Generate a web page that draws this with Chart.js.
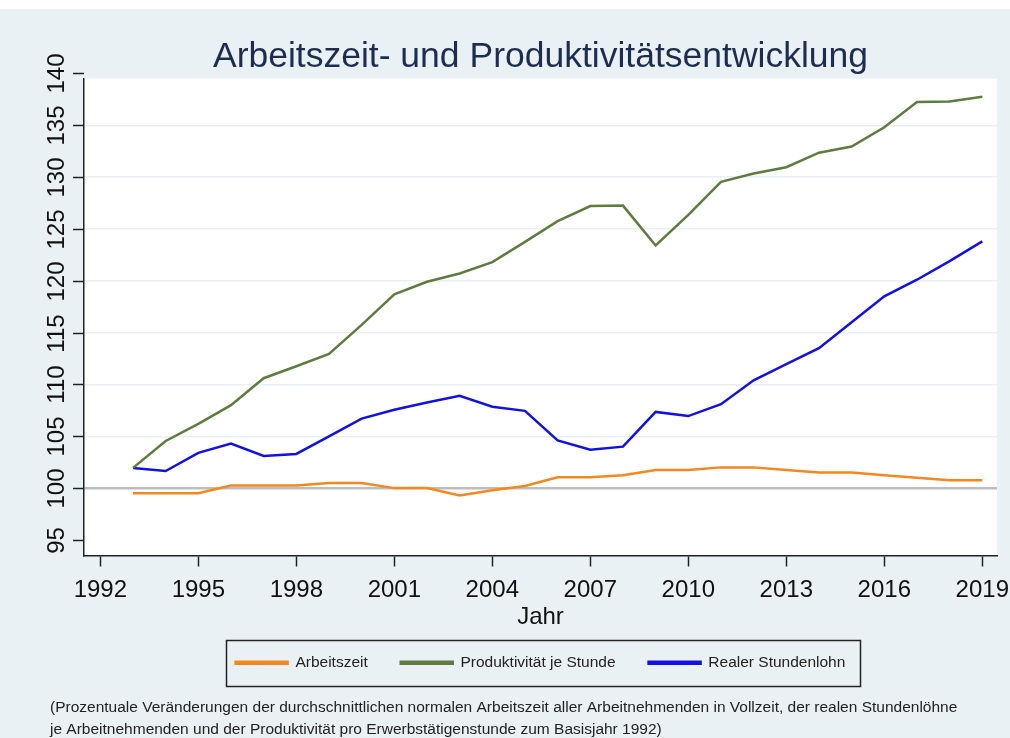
<!DOCTYPE html>
<html>
<head>
<meta charset="utf-8">
<script src="https://cdn.jsdelivr.net/npm/chart.js@4.4.1/dist/chart.umd.min.js"></script>
<style>
  body { margin: 0; background: #ffffff; }
  #wrap { position: absolute; left: 0; top: 9px; width: 1010px; height: 729px; }
</style>
</head>
<body>
<div id="wrap"><canvas id="myChart" width="1010" height="729"></canvas></div>
<script>
/*----------------------------Daten------------------------------------*/
var years = [1993,1994,1995,1996,1997,1998,1999,2000,2001,2002,2003,2004,2005,2006,
  2007,2008,2009,2010,2011,2012,2013,2014,2015,2016,2017,2018,2019];

var arbeitszeit = [99.5,99.5,99.5,100.25,100.25,100.25,100.5,100.5,100.0,100.0,99.3,99.8,100.2,101.05,
  101.05,101.25,101.75,101.75,102.0,102.0,101.75,101.5,101.5,101.25,101.0,100.75,100.75];

var produktivitaet = [101.95,104.55,106.2,108.0,110.6,111.75,112.95,115.75,118.7,119.9,120.7,121.8,123.75,125.75,
  127.2,127.25,123.4,126.35,129.55,130.35,130.95,132.35,132.95,134.8,137.25,137.3,137.75];

var stundenlohn = [101.95,101.65,103.4,104.3,103.1,103.3,105.0,106.7,107.55,108.25,108.9,107.85,107.45,104.6,
  103.7,104.0,107.35,106.95,108.1,110.4,111.95,113.5,116.0,118.5,120.1,121.9,123.8];

var xTicks = [1992,1995,1998,2001,2004,2007,2010,2013,2016,2019];
var yTicks = [95,100,105,110,115,120,125,130,135,140];

var seriesNames = ["Arbeitszeit", "Produktivität je Stunde", "Realer Stundenlohn"];
var seriesColors = ["#f5871f", "#5e7b40", "#1212e0"];

var titleText = "Arbeitszeit- und Produktivitätsentwicklung";
var footnote = [
  "(Prozentuale Veränderungen der durchschnittlichen normalen Arbeitszeit aller Arbeitnehmenden in Vollzeit, der realen Stundenlöhne",
  "je Arbeitnehmenden und der Produktivität pro Erwerbstätigenstunde zum Basisjahr 1992)"
];

var FONT = "'Liberation Sans', Arial, sans-serif";

function points(values) {
  return years.map(function(yr, i) { return {x: yr, y: values[i]}; });
}

/*----------------------------Plugins------------------------------------*/
// hellblauer Hintergrund + weisse Plotregion
var bgPlugin = {
  id: "bg",
  beforeDraw: function(chart) {
    var ctx = chart.ctx, a = chart.chartArea;
    ctx.save();
    ctx.fillStyle = "#eaf1f4";
    ctx.fillRect(0, 0, chart.width, chart.height);
    ctx.fillStyle = "#ffffff";
    ctx.fillRect(a.left, a.top, a.right - a.left, a.bottom - a.top);
    ctx.restore();
  }
};

// Stata-artige y-Achse: Striche und senkrechte Beschriftung
var yLabelPlugin = {
  id: "ylabels",
  afterDraw: function(chart) {
    var ctx = chart.ctx, y = chart.scales.y, left = chart.chartArea.left;
    ctx.save();
    ctx.strokeStyle = "#222";
    ctx.lineWidth = 1.5;
    ctx.fillStyle = "#111";
    ctx.font = "24px " + FONT;
    ctx.textAlign = "center";
    ctx.textBaseline = "alphabetic";
    yTicks.forEach(function(v) {
      var py = Math.round(y.getPixelForValue(v)) + 0.5;
      ctx.beginPath();
      ctx.moveTo(left - 11, py);
      ctx.lineTo(left, py);
      ctx.stroke();
      ctx.save();
      ctx.translate(left - 20, py);
      ctx.rotate(-Math.PI / 2);
      ctx.fillText(String(v), 0, 0);
      ctx.restore();
    });
    ctx.restore();
  }
};

// Rahmen um die Legende
var legendBoxPlugin = {
  id: "legendbox",
  afterDraw: function(chart) {
    var lg = chart.legend;
    if (!lg || !lg.legendHitBoxes.length) return;
    var hb = lg.legendHitBoxes;
    var x0 = hb[0].left - 10;
    var x1 = hb[hb.length - 1].left + hb[hb.length - 1].width + 14;
    var mid = hb[0].top + hb[0].height / 2;
    var ctx = chart.ctx;
    ctx.save();
    ctx.strokeStyle = "#222";
    ctx.lineWidth = 1.5;
    ctx.strokeRect(Math.round(x0) + 0.5, Math.round(mid - 23) + 0.5, Math.round(x1 - x0), 46);
    ctx.restore();
  }
};

/*----------------------------LineChart------------------------------------*/
new Chart("myChart", {
  type: "line",
  data: {
    datasets: [0, 1, 2].map(function(i) {
      var vals = [arbeitszeit, produktivitaet, stundenlohn][i];
      return {
        label: seriesNames[i],
        data: points(vals),
        borderColor: seriesColors[i],
        backgroundColor: seriesColors[i],
        borderWidth: 2.5,
        pointRadius: 0,
        tension: 0,
        fill: false
      };
    })
  },
  options: {
    responsive: false,
    animation: false,
    layout: { padding: { left: 50, right: 13, top: 0, bottom: 0 } },
    scales: {
      x: {
        type: "linear",
        min: 1991.5,
        max: 2019.45,
        afterBuildTicks: function(axis) {
          axis.ticks = xTicks.map(function(v) { return {value: v}; });
        },
        afterFit: function(axis) {
          axis.height = 66.5;
          axis.paddingLeft = 0;
          axis.paddingRight = 0;
        },
        ticks: {
          color: "#111",
          padding: 9,
          maxRotation: 0,
          font: { family: FONT, size: 24 },
          callback: function(v) { return String(v); }
        },
        grid: { drawOnChartArea: false, drawTicks: true, tickLength: 11, tickColor: "#222", tickWidth: 1.5 },
        border: { display: true, color: "#222", width: 1.5 },
        title: {
          display: true,
          text: "Jahr",
          color: "#111",
          padding: { top: 0, bottom: -9.5 },
          font: { family: FONT, size: 24 }
        }
      },
      y: {
        type: "linear",
        min: 93.5,
        max: 139.5,
        afterBuildTicks: function(axis) {
          axis.ticks = yTicks.filter(function(v) { return v <= 139.5; })
            .map(function(v) { return {value: v}; });
        },
        afterFit: function(axis) { axis.width = 34; },
        ticks: { display: false },
        grid: {
          drawTicks: false,
          color: function(c) {
            var v = c.tick && c.tick.value;
            if (v === 100) return "#bdbdbd";
            if (v === 95) return "rgba(0,0,0,0)";
            return "#eceff2";
          },
          lineWidth: function(c) { return c.tick && c.tick.value === 100 ? 2.5 : 1.5; }
        },
        border: { display: true, color: "#222", width: 1.5 }
      }
    },
    plugins: {
      title: {
        display: true,
        text: titleText,
        color: "#1e2d4f",
        fullSize: false,
        padding: { top: 27, bottom: 0 },
        font: { family: FONT, size: 35.5, weight: "normal", lineHeight: 1.2 }
      },
      subtitle: {
        display: true,
        position: "bottom",
        align: "start",
        text: footnote,
        color: "#222",
        padding: { top: 16, bottom: -2.5 },
        font: { family: FONT, size: 15.5, lineHeight: "22px" }
      },
      legend: {
        display: true,
        position: "bottom",
        fullSize: false,
        labels: {
          boxWidth: 52,
          boxHeight: 2,
          padding: 33,
          color: "#222",
          font: { family: FONT, size: 15.5 }
        }
      },
      tooltip: { enabled: false }
    }
  },
  plugins: [bgPlugin, yLabelPlugin, legendBoxPlugin]
});
</script>
</body>
</html>
